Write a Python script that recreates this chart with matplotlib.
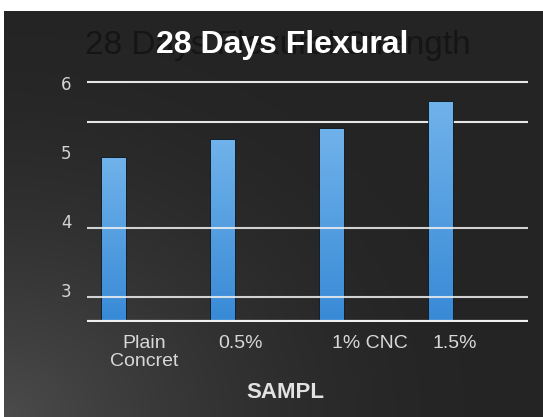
import numpy as np
import matplotlib
matplotlib.use("Agg")
import matplotlib.pyplot as plt
from matplotlib.patches import Rectangle

# --- data ---------------------------------------------------------------
samples = ["Plain\nConcret", "0.5%", "1% CNC", "1.5%"]
strength = [4.92, 5.17, 5.33, 5.72]
y_ticks = [3, 4, 5, 6]
grid_back = [6.02, 5.44]
grid_front = [3.90, 2.90]
title = "28 Days Flexural"
shadow_title = "28 Days Flexural Strength"
x_title = "SAMPL"

W, H = 543, 417
fig = plt.figure(figsize=(W / 100, H / 100), dpi=100)
fig.patch.set_facecolor("white")

# dark panel with a soft light spot towards the lower left
bg = fig.add_axes([4 / W, 0, 1 - 4 / W, 1 - 11 / H])
bg.set_axis_off()
yy, xx = np.mgrid[0:1:300j, 0:1:400j]
d = np.sqrt((xx * 1.1) ** 2 + ((1 - yy) * 1.0) ** 2)
lum = 0.145 + 0.15 * np.clip(1 - d / 0.95, 0, 1) ** 1.6
img = np.dstack([lum, lum, lum])
bg.imshow(img, extent=[0, 1, 0, 1], aspect="auto", origin="upper")
bg.set_xlim(0, 1)
bg.set_ylim(0, 1)

# plotting axes (pixel layout)
px_left, px_right = 87, 528
px_top, px_bottom = 60, 321.5
unit = 69.0
ymax = 6 + (83 - px_top) / unit
ymin = 6 - (px_bottom - 83) / unit
ax = fig.add_axes([px_left / W, 1 - px_bottom / H,
                   (px_right - px_left) / W, (px_bottom - px_top) / H])
ax.patch.set_alpha(0)
xlo, xhi = -0.248, 3.80
for s in ax.spines.values():
    s.set_visible(False)

x = np.arange(len(samples))
bw = 0.22

# gridlines behind the bars
for g in grid_back:
    ax.axhline(g, color="#e6e6e6", lw=1.5, zorder=1)

# bars with a vertical blue gradient
grad = np.linspace(0, 1, 256).reshape(-1, 1)
top_c = np.array([0.44, 0.70, 0.92])
bot_c = np.array([0.22, 0.54, 0.84])
gimg = (top_c[None, None, :] * (1 - grad[:, :, None]) +
        bot_c[None, None, :] * grad[:, :, None])
bars = ax.bar(x, [v - ymin for v in strength], bottom=ymin, width=bw,
              color="#4d96dd", edgecolor="#10202e", linewidth=1.2, zorder=2)
for b in bars:
    x0, y0 = b.get_x(), b.get_y()
    w, h = b.get_width(), b.get_height()
    im = ax.imshow(gimg, extent=[x0, x0 + w, y0, y0 + h], aspect="auto",
                   origin="upper", zorder=2.5)
    clip = Rectangle((x0, y0), w, h, transform=ax.transData)
    im.set_clip_path(clip)

# gridlines over the bars
for g in grid_front:
    ax.axhline(g, color="#f0f0f0", lw=1.5, alpha=0.85, zorder=3)
ax.axhline(ymin + 0.01, color="#f0f0f0", lw=1.6, zorder=3)

ax.set_xlim(xlo, xhi)
ax.set_ylim(ymin, ymax)

# y tick labels
ax.set_yticks(y_ticks)
ax.set_yticklabels([str(t) for t in y_ticks], fontsize=12,
                   color="#d4d4d4", family="Liberation Sans Narrow")
ax.tick_params(axis="y", length=0, pad=11)

# category labels, set slightly right of each bar
ax.set_xticks([0.28, 1.16, 2.35, 3.13])
ax.set_xticklabels(samples, fontsize=14, color="#d8d8d8",
                   family="Liberation Sans", linespacing=1.05)
ax.tick_params(axis="x", length=0, pad=10)

# titles
fig.text(278 / W, 1 - 54 / H, shadow_title, ha="center", va="baseline",
         fontsize=24, color="#151515", family="Liberation Sans")
fig.text(282 / W, 1 - 53 / H, title, ha="center", va="baseline",
         fontsize=23, fontweight="bold", color="white",
         family="Liberation Sans")
fig.text(285 / W, 1 - 392 / H, x_title, ha="center", va="center",
         fontsize=16, fontweight="bold", color="#e2e2e2",
         family="Liberation Sans")

fig.savefig("out.png", dpi=100)
